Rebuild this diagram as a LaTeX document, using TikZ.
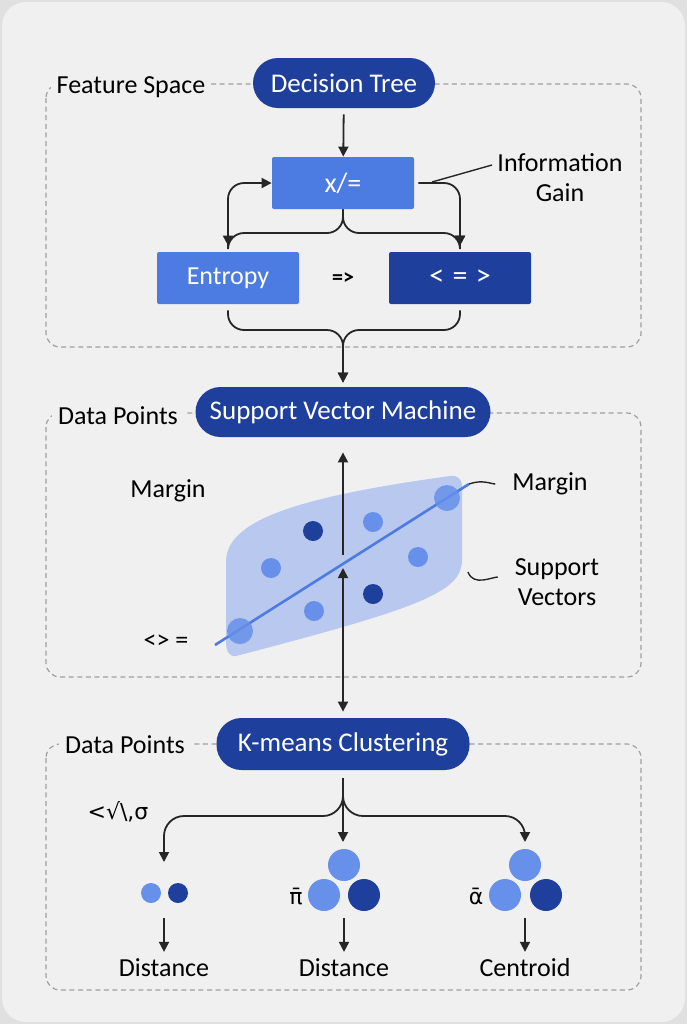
\documentclass[tikz,border=0pt]{standalone}
\usepackage{fontspec}
\setmainfont{Carlito}
\newfontfamily\symfont{DejaVu Sans}
\usepackage{xcolor}
\usetikzlibrary{
	arrows.meta,
	positioning,
	calc
}
\definecolor{navy}{HTML}{1E3F9C}
\definecolor{midblue}{HTML}{4C7BE1}
\definecolor{lightdot}{HTML}{6690EA}
\definecolor{regionblue}{HTML}{B9C8EF}
\definecolor{cardbg}{HTML}{F0F0F0}
\definecolor{edgebg}{HTML}{E0E0E0}
\definecolor{dashgray}{HTML}{A0A0A0}

\begin{document}
\begin{tikzpicture}[x=0.5pt,y=-0.5pt,
		font=\fontsize{13}{15}\selectfont,
		pill/.style={fill=navy, text=white, rounded corners=12.5pt, minimum height=25pt, font=\fontsize{13.5}{15}\selectfont},
		blockbox/.style={fill=#1, text=white, rounded corners=1pt, minimum width=71pt, minimum height=26pt},
		frame/.style={draw=dashgray, dash pattern=on 2.5pt off 1.8pt, line width=0.6pt, rounded corners=7pt},
		tag/.style={fill=cardbg, inner sep=3pt},
		wire/.style={draw=black!85, line width=0.9pt},
		arr/.style={wire, -{Triangle[width=5pt,length=5pt]}},
		biarr/.style={wire, {Triangle[width=5pt,length=5pt]}-{Triangle[width=5pt,length=5pt]}},
		dot/.style={circle, fill=#1, inner sep=0pt, minimum size=10pt}
	]
		
		\fill[edgebg] (0,0) rectangle (687,1024);
		\fill[cardbg, rounded corners=12pt] (2,2) rectangle (685,1022);
		\useasboundingbox (0,0) rectangle (687,1024);
		
		\draw[frame] (46,84) rectangle (641,347);
		\draw[frame] (46,413) rectangle (641,677);
		\draw[frame] (46,744) rectangle (641,990);
		
		% decision tree
		\node[pill, minimum width=91pt] (dt) at (344,83) {Decision Tree};
		\node[tag] (fs) at (131,87) {Feature Space};
		\node[blockbox=midblue, font=\fontsize{14}{16}\selectfont] (xq) at (343,183) {x/=};
		\node[blockbox=midblue] (ent) at (228,278) {Entropy};
		\node[blockbox=navy, font=\fontsize{15}{17}\selectfont] (lt) at (460,278) {<\;=\;>};
		\node (imp) at (343,279) {\fontsize{11}{13}\selectfont\bfseries =>};
		\node[align=center] (ig) at (560,178) {Information\\Gain};
		\coordinate (igfoot) at (432,182);
		\coordinate (igtip) at (492,165);
		\coordinate (split1) at (343,233);
		\coordinate (join1) at (343,330);
		
		\draw[arr, shorten <=3pt] (dt) -- (xq);
		\draw[arr, rounded corners=8pt, shorten >=3pt] (xq.south) |- (ent.north |- split1) -- (ent.north);
		\draw[arr, rounded corners=8pt, shorten >=3pt] (xq.south) |- (lt.north |- split1) -- (lt.north);
		\draw[arr, rounded corners=8pt] ($(ent.north |- split1)+(0,8)$) |- (xq.west);
		\draw[arr, rounded corners=8pt, shorten <=2pt, shorten >=3pt] (xq.east) -| (lt.north);
		\draw[wire, line width=0.7pt] (igfoot) -- (igtip);
		
		% support vector machine
		\node[pill, minimum width=147.5pt] (svm) at (343,412) {Support Vector Machine};
		\node[tag] (dp1) at (118,416) {Data Points};
		\draw[arr, rounded corners=8pt, shorten <=3pt, shorten >=2pt] (ent.south) |- (join1) -- (svm.north);
		\draw[arr, rounded corners=8pt, shorten <=3pt, shorten >=2pt] (lt.south) |- (join1) -- (svm.north);
		
		\fill[regionblue] (236,656)
		.. controls (228,657) and (226,650) .. (226,640) -- (226,562)
		.. controls (226,522) and (290,498) .. (450,476)
		.. controls (458,475) and (462,479) .. (462,487) -- (462,560)
		.. controls (462,592) and (420,608) .. (236,656)
		-- cycle;
		
		\coordinate (hypA) at (215,645);
		\coordinate (hypB) at (469,484);
		\draw[midblue, line width=1.3pt] (hypA) -- (hypB);
		
		\node[dot=lightdot, opacity=.85, minimum size=13pt] (big1) at (240,631) {};
		\node[dot=lightdot, opacity=.85, minimum size=13pt] (big2) at (447,498) {};
		\node[dot=lightdot] (p1) at (373,522) {};
		\node[dot=lightdot] (p2) at (271,568) {};
		\node[dot=lightdot] (p3) at (418,557) {};
		\node[dot=lightdot] (p4) at (314,611) {};
		\node[dot=navy] (q1) at (313,531) {};
		\node[dot=navy] (q2) at (373,594) {};
		
		\node (mg1) at (168,491) {Margin};
		\node (mg2) at (550,484) {Margin};
		\node[align=center] (sv) at (557,582) {Support\\Vectors};
		\node (neq) at (166,642) {<> =};
		\coordinate (svfoot) at (468,572);
		\draw[wire, line width=0.7pt, shorten >=5pt] (hypB) to[out=20,in=180] (mg2.west);
		\draw[wire, line width=0.7pt, shorten >=5pt] (svfoot) to[out=-70,in=180] ($(sv.west)+(0,-5)$);
		
		% k-means
		\node[pill, minimum width=126.5pt, minimum height=26pt] (km) at (343,744) {K-means Clustering};
		\node[tag] (dp2) at (125,745) {Data Points};
		\node (sig) at (118,812) {\symfont\fontsize{11}{13}\selectfont <√\textbackslash,σ};
		
		\coordinate (hubtop) at (343,555);
		\coordinate (hubbot) at (343,568);
		\draw[arr, shorten >=7.5pt] (hubtop) -- (svm.south);
		\draw[biarr, shorten >=3pt] (hubbot) -- (km.north);
		
		\node[dot=lightdot] (c1a) at (151,893) {};
		\node[dot=navy] (c1b) at (178,893) {};
		\node[dot=lightdot, minimum size=16pt] (c2t) at (344,865) {};
		\node[dot=lightdot, minimum size=16pt] (c2l) at (324,895) {};
		\node[dot=navy, minimum size=16pt] (c2r) at (364,895) {};
		\node[dot=lightdot, minimum size=16pt] (c3t) at (525,865) {};
		\node[dot=lightdot, minimum size=16pt] (c3l) at (505,895) {};
		\node[dot=navy, minimum size=16pt] (c3r) at (546,895) {};
		\node (pib) at (296,896) {\symfont\fontsize{11}{13}\selectfont π̄};
		\node (alb) at (476,896) {\symfont\fontsize{11}{13}\selectfont ᾱ};
		
		\coordinate (split3) at (343,816);
		\coordinate (in1) at (164,862);
		\coordinate (in2) at (343,842);
		\coordinate (in3) at (525,842);
		\draw[arr, rounded corners=10pt, shorten <=4pt] (km.south) |- (in1 |- split3) -- (in1);
		\draw[arr, shorten <=4pt] (km.south) -- (in2);
		\draw[arr, rounded corners=10pt, shorten <=4pt] (km.south) |- (in3 |- split3) -- (in3);
		
		\node (d1) at (164,968) {Distance};
		\node (d2) at (344,968) {Distance};
		\node (d3) at (525,968) {Centroid};
		\coordinate (out1) at (164,918);
		\coordinate (out2) at (344,918);
		\coordinate (out3) at (525,918);
		\draw[arr] (out1) -- (d1);
		\draw[arr] (out2) -- (d2);
		\draw[arr] (out3) -- (d3);
		
	\end{tikzpicture}
\end{document}
